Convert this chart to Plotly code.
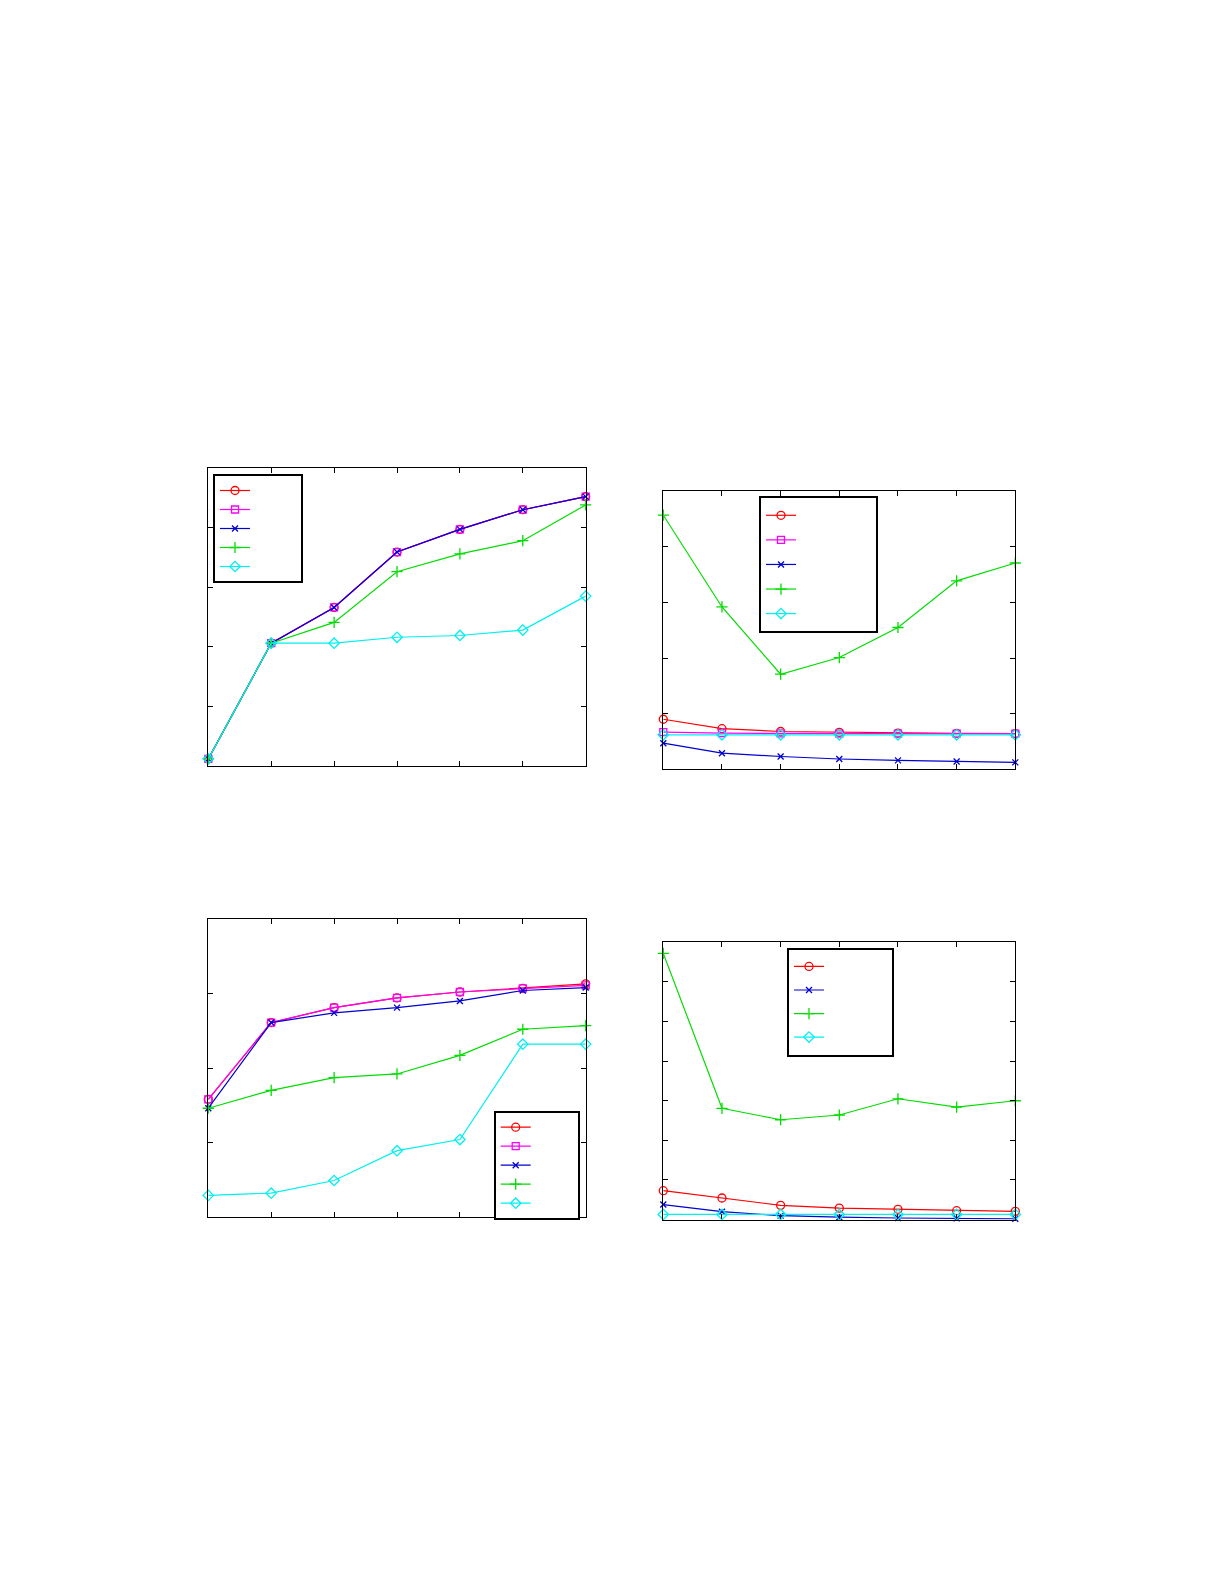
import plotly.graph_objects as go

# x positions shared by all four panels
steps = [1, 2, 3, 4, 5, 6, 7]

# panel 1 (top left)
p1_red = [0.12, 2.06, 2.66, 3.59, 3.97, 4.30, 4.52]
p1_magenta = [0.12, 2.06, 2.66, 3.59, 3.97, 4.30, 4.52]
p1_blue = [0.12, 2.06, 2.66, 3.59, 3.97, 4.30, 4.52]
p1_green = [0.12, 2.06, 2.41, 3.26, 3.56, 3.78, 4.38]
p1_cyan = [0.12, 2.06, 2.06, 2.16, 2.19, 2.28, 2.85]

# panel 2 (top right)
p2_red = [0.90, 0.73, 0.68, 0.665, 0.65, 0.645, 0.64]
p2_magenta = [0.67, 0.65, 0.645, 0.64, 0.64, 0.64, 0.64]
p2_blue = [0.47, 0.29, 0.23, 0.185, 0.16, 0.14, 0.125]
p2_green = [4.57, 2.92, 1.71, 2.01, 2.55, 3.39, 3.71]
p2_cyan = [0.62, 0.62, 0.62, 0.62, 0.62, 0.62, 0.62]

# panel 3 (bottom left)
p3_red = [1.58, 2.61, 2.81, 2.94, 3.02, 3.07, 3.13]
p3_magenta = [1.58, 2.61, 2.81, 2.94, 3.02, 3.07, 3.11]
p3_blue = [1.46, 2.61, 2.74, 2.81, 2.90, 3.04, 3.08]
p3_green = [1.46, 1.70, 1.87, 1.92, 2.17, 2.52, 2.57]
p3_cyan = [0.29, 0.32, 0.49, 0.89, 1.04, 2.32, 2.32]

# panel 4 (bottom right), no magenta series
p4_red = [0.73, 0.545, 0.36, 0.29, 0.26, 0.225, 0.21]
p4_blue = [0.38, 0.20, 0.10, 0.06, 0.04, 0.03, 0.02]
p4_green = [6.72, 2.81, 2.52, 2.64, 3.05, 2.84, 3.00]
p4_cyan = [0.13, 0.13, 0.13, 0.13, 0.13, 0.13, 0.13]

y_max = [5, 5, 4, 7]

# page body keeps an 8px margin, so the figure is 16px smaller and shifted
OFF = 8
W, H = 1225 - 2 * OFF, 1585 - 2 * OFF

styles = {
    'red': dict(color='#ff0000', symbol='circle-open', size=8),
    'magenta': dict(color='#ff00ff', symbol='square-open', size=7),
    'blue': dict(color='#0000d0', symbol='x-thin-open', size=6),
    'green': dict(color='#00dd00', symbol='cross-thin-open', size=8),
    'cyan': dict(color='#00f0f0', symbol='diamond-open', size=8),
}

panels = [
    [('red', p1_red), ('magenta', p1_magenta), ('blue', p1_blue), ('green', p1_green), ('cyan', p1_cyan)],
    [('red', p2_red), ('magenta', p2_magenta), ('blue', p2_blue), ('green', p2_green), ('cyan', p2_cyan)],
    [('red', p3_red), ('magenta', p3_magenta), ('blue', p3_blue), ('green', p3_green), ('cyan', p3_cyan)],
    [('red', p4_red), ('blue', p4_blue), ('green', p4_green), ('cyan', p4_cyan)],
]

# plot areas in page pixels: left, right, top, bottom
boxes = [(208.3, 585.7, 468, 766), (663.3, 1015.3, 491.3, 769.3),
         (208.3, 585.7, 919, 1217), (663.3, 1015.3, 942.3, 1219.6)]
# legends: left, top, font size, padding
legends = [(213, 474, 12, 12), (759, 496, 16.6, 15), (493.7, 1110.7, 12, 11), (787, 947.7, 15.8, 13)]

fig = go.Figure()
for i, series in enumerate(panels):
    n = '' if i == 0 else str(i + 1)
    for name, vals in series:
        st = styles[name]
        fig.add_trace(go.Scatter(
            x=steps, y=vals, xaxis='x' + n, yaxis='y' + n, mode='lines+markers',
            name='\u00a0' * legends[i][3], legend='legend' + n, cliponaxis=False,
            line=dict(color=st['color'], width=1.2),
            marker=dict(symbol=st['symbol'], size=st['size'], color=st['color'],
                        line=dict(color=st['color'], width=1.3))))

layout = dict(width=W, height=H, margin=dict(l=0, r=0, t=0, b=0),
              paper_bgcolor='white', plot_bgcolor='white')
for i, (l, r, t, b) in enumerate(boxes):
    n = '' if i == 0 else str(i + 1)
    l, r, t, b = l - OFF, r - OFF, t - OFF, b - OFF
    ax = dict(showgrid=False, zeroline=False, showticklabels=False, showline=True,
              linecolor='black', linewidth=1.3, mirror='ticks', ticks='inside',
              ticklen=5, tickwidth=1.3, tickcolor='black')
    layout['xaxis' + n] = dict(ax, domain=[l / W, r / W], range=[1, 7], tickvals=steps,
                               anchor='y' + n)
    layout['yaxis' + n] = dict(ax, domain=[1 - b / H, 1 - t / H], range=[0, y_max[i]],
                               dtick=1, anchor='x' + n)
    lx, ly, fs, pad = legends[i]
    layout['legend' + n] = dict(x=(lx - OFF) / W, y=1 - (ly - OFF) / H,
                                xanchor='left', yanchor='top',
                                bgcolor='white', bordercolor='black', borderwidth=2,
                                font=dict(size=fs, family='Liberation Sans'))
fig.update_layout(**layout)
fig.write_html('out.html')
